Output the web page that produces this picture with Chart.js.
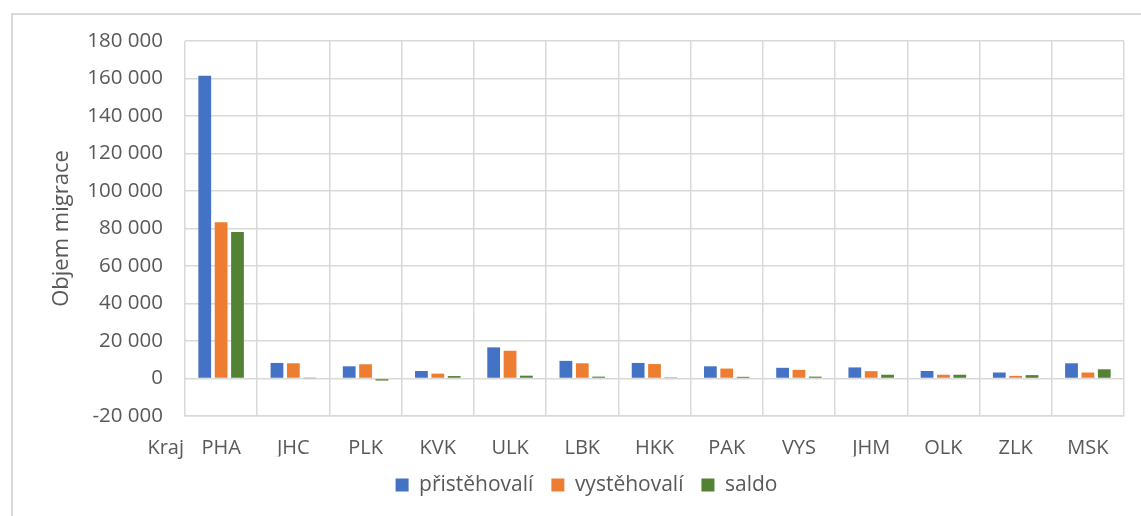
<!DOCTYPE html>
<html>
<head>
<meta charset="utf-8">
<script src="https://cdn.jsdelivr.net/npm/chart.js@4"></script>
<style>
  html, body { margin: 0; padding: 0; background: #fff; }
  #wrap { position: relative; width: 1141px; height: 516px; overflow: hidden; }
  #frame { position: absolute; left: 11px; top: 13px; width: 1200px; height: 600px;
           border-left: 2px solid #d9d9d9; border-top: 2px solid #d9d9d9; }
  #migrace { position: absolute; left: 0; top: 0; }
</style>
</head>
<body>
<div id="wrap">
  <div id="frame"></div>
  <canvas id="migrace" width="1141" height="516"></canvas>
</div>
<script>
var kraje = ['PHA', 'JHC', 'PLK', 'KVK', 'ULK', 'LBK', 'HKK', 'PAK', 'VYS', 'JHM', 'OLK', 'ZLK', 'MSK'];
var pristehovali = [161500, 8300, 6500, 4000, 16600, 9400, 8300, 6500, 5700, 5900, 4000, 3200, 8100];
var vystehovali = [83400, 8100, 7600, 2600, 14800, 8100, 7700, 5300, 4600, 3900, 2000, 1400, 3200];
var saldo = [78100, 200, -1100, 1300, 1500, 1000, 600, 900, 1000, 2000, 2000, 1800, 4900];

var textColor = '#595959';
var gridColor = '#d9d9d9';
var fontFamily = '"Open Sans", "Liberation Sans", sans-serif';

function formatNum(v) {
    var s = Math.abs(v).toString().replace(/\B(?=(\d{3})+(?!\d))/g, ' ');
    return (v < 0 ? '-' : '') + s;
}

// "Kraj" sits left of the first category label, like in Excel
var krajLabel = {
    id: 'krajLabel',
    afterDraw: function(chart) {
        var ctx = chart.ctx;
        var xs = chart.scales.x;
        ctx.save();
        ctx.font = '20px ' + fontFamily;
        ctx.fillStyle = textColor;
        ctx.textAlign = 'right';
        ctx.textBaseline = 'middle';
        ctx.fillText('Kraj', chart.chartArea.left - 1, xs.top + 20 + 12);
        ctx.restore();
    }
};

var ctx = document.getElementById('migrace').getContext('2d');
var migraceChart = new Chart(ctx, {
    type: 'bar',
    data: {
        labels: kraje,
        datasets: [{
            label: 'přistěhovalí',
            data: pristehovali,
            backgroundColor: '#4472C4'
        }, {
            label: 'vystěhovalí',
            data: vystehovali,
            backgroundColor: '#ED7D31'
        }, {
            label: 'saldo',
            data: saldo,
            backgroundColor: '#548235'
        }]
    },
    options: {
        responsive: false,
        animation: false,
        datasets: {
            bar: {
                categoryPercentage: 0.68,
                barPercentage: 0.78
            }
        },
        layout: {
            padding: { left: 49, right: 17, top: 41, bottom: 10.5 }
        },
        plugins: {
            tooltip: { enabled: false },
            legend: {
                position: 'bottom',
                labels: {
                    boxWidth: 13,
                    boxHeight: 13,
                    padding: 18,
                    color: textColor,
                    font: { family: fontFamily, size: 21 }
                }
            }
        },
        scales: {
            x: {
                grid: { color: gridColor, lineWidth: 1.5, drawTicks: false },
                border: { color: gridColor, width: 1.5 },
                ticks: {
                    color: textColor,
                    padding: 20,
                    maxRotation: 0,
                    font: { family: fontFamily, size: 20 }
                },
                afterFit: function(scale) { scale.height = 40.5; }
            },
            y: {
                min: -20000,
                max: 180000,
                grid: { color: gridColor, lineWidth: 1.5, drawTicks: false },
                border: { display: false },
                ticks: {
                    stepSize: 20000,
                    color: textColor,
                    padding: 22,
                    font: { family: fontFamily, size: 20.5 },
                    callback: function(v) { return formatNum(v); }
                },
                title: {
                    display: true,
                    text: 'Objem migrace',
                    color: textColor,
                    padding: 0,
                    font: { family: fontFamily, size: 22 }
                },
                afterFit: function(scale) { scale.width = 136; }
            }
        }
    },
    plugins: [krajLabel]
});
</script>
</body>
</html>
